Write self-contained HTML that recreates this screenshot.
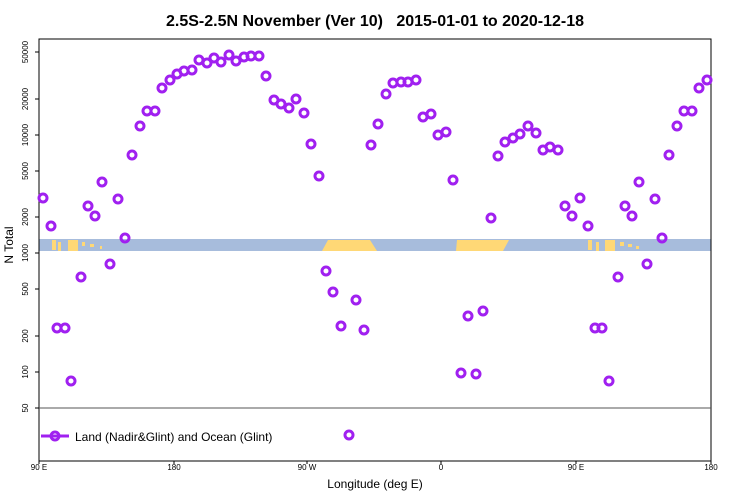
<!DOCTYPE html>
<html><head><style>body{margin:0;background:#fff}svg{display:block}</style></head><body>
<svg width="750" height="500" xmlns="http://www.w3.org/2000/svg" font-family="Liberation Sans, sans-serif">
<text x="375" y="26" text-anchor="middle" font-size="16" font-weight="bold">2.5S-2.5N November (Ver 10)&#160;&#160; 2015-01-01 to 2020-12-18</text>
<rect x="39" y="239" width="672" height="12" fill="#a7bcdc"/>
<g fill="#ffd876">
<rect x="52" y="240" width="4" height="10"/><rect x="58" y="242" width="3" height="9"/><rect x="68" y="240" width="10" height="11"/><rect x="82" y="242" width="3" height="4"/><rect x="90" y="244" width="4" height="3"/><rect x="100" y="246" width="2" height="3"/>
<polygon points="322,251 328,240 370,240 377,251"/>
<polygon points="456,251 457,240 509,240 503,251"/>
<rect x="588" y="240" width="4" height="10"/><rect x="596" y="242" width="3" height="9"/><rect x="605" y="240" width="10" height="11"/><rect x="620" y="242" width="4" height="4"/><rect x="628" y="244" width="4" height="3"/><rect x="636" y="246" width="3" height="3"/>
</g>
<rect x="39" y="39" width="672" height="422" fill="none" stroke="#000" stroke-width="1"/>
<line x1="39" y1="408" x2="711" y2="408" stroke="#555"/>
<g font-size="8" text-anchor="middle">
<g stroke="#000"><line x1="35" y1="52" x2="39" y2="52"/><line x1="35" y1="99" x2="39" y2="99"/><line x1="35" y1="135" x2="39" y2="135"/><line x1="35" y1="171" x2="39" y2="171"/><line x1="35" y1="217" x2="39" y2="217"/><line x1="35" y1="253" x2="39" y2="253"/><line x1="35" y1="289" x2="39" y2="289"/><line x1="35" y1="336" x2="39" y2="336"/><line x1="35" y1="372" x2="39" y2="372"/><line x1="35" y1="408" x2="39" y2="408"/>
<line x1="39" y1="461" x2="39" y2="464"/><line x1="174" y1="461" x2="174" y2="464"/><line x1="307" y1="461" x2="307" y2="464"/><line x1="441" y1="461" x2="441" y2="464"/><line x1="576" y1="461" x2="576" y2="464"/><line x1="711" y1="461" x2="711" y2="464"/></g>
<text transform="translate(28,52) rotate(-90)">50000</text><text transform="translate(28,99) rotate(-90)">20000</text><text transform="translate(28,135) rotate(-90)">10000</text><text transform="translate(28,171) rotate(-90)">5000</text><text transform="translate(28,217) rotate(-90)">2000</text><text transform="translate(28,253) rotate(-90)">1000</text><text transform="translate(28,289) rotate(-90)">500</text><text transform="translate(28,336) rotate(-90)">200</text><text transform="translate(28,372) rotate(-90)">100</text><text transform="translate(28,408) rotate(-90)">50</text>
<text x="39" y="470">90 E</text><text x="174" y="470">180</text><text x="307" y="470">90 W</text><text x="441" y="470">0</text><text x="576" y="470">90 E</text><text x="711" y="470">180</text>
</g>
<text x="375" y="488" text-anchor="middle" font-size="12">Longitude (deg E)</text>
<text transform="translate(13,245) rotate(-90)" text-anchor="middle" font-size="12">N Total</text>
<g fill="none" stroke="#a020f0" stroke-width="3">
<line x1="41" y1="436" x2="69" y2="436"/><circle cx="55" cy="436" r="4"/>
<circle cx="43" cy="198" r="4"/><circle cx="51" cy="226" r="4"/><circle cx="57" cy="328" r="4"/><circle cx="65" cy="328" r="4"/><circle cx="71" cy="381" r="4"/><circle cx="81" cy="277" r="4"/><circle cx="88" cy="206" r="4"/><circle cx="95" cy="216" r="4"/><circle cx="102" cy="182" r="4"/><circle cx="110" cy="264" r="4"/><circle cx="118" cy="199" r="4"/><circle cx="125" cy="238" r="4"/><circle cx="132" cy="155" r="4"/><circle cx="140" cy="126" r="4"/><circle cx="147" cy="111" r="4"/><circle cx="155" cy="111" r="4"/><circle cx="162" cy="88" r="4"/><circle cx="170" cy="80" r="4"/><circle cx="177" cy="74" r="4"/><circle cx="184" cy="71" r="4"/><circle cx="192" cy="70" r="4"/><circle cx="199" cy="60" r="4"/><circle cx="207" cy="63" r="4"/><circle cx="214" cy="58" r="4"/><circle cx="221" cy="62" r="4"/><circle cx="229" cy="55" r="4"/><circle cx="236" cy="61" r="4"/><circle cx="244" cy="57" r="4"/><circle cx="251" cy="56" r="4"/><circle cx="259" cy="56" r="4"/><circle cx="266" cy="76" r="4"/><circle cx="274" cy="100" r="4"/><circle cx="281" cy="104" r="4"/><circle cx="289" cy="108" r="4"/><circle cx="296" cy="99" r="4"/><circle cx="304" cy="113" r="4"/><circle cx="311" cy="144" r="4"/><circle cx="319" cy="176" r="4"/><circle cx="326" cy="271" r="4"/><circle cx="333" cy="292" r="4"/><circle cx="341" cy="326" r="4"/><circle cx="349" cy="435" r="4"/><circle cx="356" cy="300" r="4"/><circle cx="364" cy="330" r="4"/><circle cx="371" cy="145" r="4"/><circle cx="378" cy="124" r="4"/><circle cx="386" cy="94" r="4"/><circle cx="393" cy="83" r="4"/><circle cx="401" cy="82" r="4"/><circle cx="408" cy="82" r="4"/><circle cx="416" cy="80" r="4"/><circle cx="423" cy="117" r="4"/><circle cx="431" cy="114" r="4"/><circle cx="438" cy="135" r="4"/><circle cx="446" cy="132" r="4"/><circle cx="453" cy="180" r="4"/><circle cx="461" cy="373" r="4"/><circle cx="468" cy="316" r="4"/><circle cx="476" cy="374" r="4"/><circle cx="483" cy="311" r="4"/><circle cx="491" cy="218" r="4"/><circle cx="498" cy="156" r="4"/><circle cx="505" cy="142" r="4"/><circle cx="513" cy="138" r="4"/><circle cx="520" cy="134" r="4"/><circle cx="528" cy="126" r="4"/><circle cx="536" cy="133" r="4"/><circle cx="543" cy="150" r="4"/><circle cx="550" cy="147" r="4"/><circle cx="558" cy="150" r="4"/><circle cx="565" cy="206" r="4"/><circle cx="572" cy="216" r="4"/><circle cx="580" cy="198" r="4"/><circle cx="588" cy="226" r="4"/><circle cx="595" cy="328" r="4"/><circle cx="602" cy="328" r="4"/><circle cx="609" cy="381" r="4"/><circle cx="618" cy="277" r="4"/><circle cx="625" cy="206" r="4"/><circle cx="632" cy="216" r="4"/><circle cx="639" cy="182" r="4"/><circle cx="647" cy="264" r="4"/><circle cx="655" cy="199" r="4"/><circle cx="662" cy="238" r="4"/><circle cx="669" cy="155" r="4"/><circle cx="677" cy="126" r="4"/><circle cx="684" cy="111" r="4"/><circle cx="692" cy="111" r="4"/><circle cx="699" cy="88" r="4"/><circle cx="707" cy="80" r="4"/>
</g>
<text x="75" y="441" font-size="12">Land (Nadir&amp;Glint) and Ocean (Glint)</text>
</svg>
</body></html>
